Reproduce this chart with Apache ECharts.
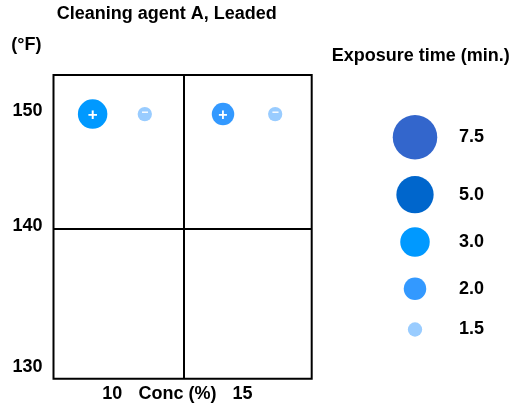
<!DOCTYPE html>
<html>
<head>
<meta charset="utf-8">
<script src="https://cdn.jsdelivr.net/npm/echarts@6/dist/echarts.min.js"></script>
<style>
html,body{margin:0;padding:0;background:#fff;}
#chart{width:519px;height:406px;}
</style>
</head>
<body>
<div id="chart"></div>
<script>
// ---- data ----
const concentrations = [10, 10, 15, 15];          // Conc (%)
const polarities = ['+', '-', '+', '-'];
const temperatures = [150, 150, 150, 150];        // °F
const exposureTimes = ['3.0', '1.5', '2.0', '1.5']; // min.
const legendTimes = ['7.5', '5.0', '3.0', '2.0', '1.5'];
const xTickLabels = [10, 12.5, 15];
const yTickLabels = [130, 140, 150];

// ---- styles ----
const timeColors = ['#3366cc', '#0066cc', '#0099ff', '#3399ff', '#99ccff'];
const timeDiameters = [44.5, 37.3, 29.5, 22.5, 14.3];
const legendCenters = [137.2, 194.7, 242, 288.7, 329.5];
const dodge = 1; // '+' left of the concentration, '-' right
const FS = 18;
const FONT = '"Liberation Sans", Arial, Helvetica, sans-serif';

const chart = echarts.init(document.getElementById('chart'), null, {renderer: 'canvas'});

const series = legendTimes.map((t, k) => {
  const data = [];
  for (let i = 0; i < concentrations.length; i++) {
    if (exposureTimes[i] === t) {
      data.push([concentrations[i] + (polarities[i] === '+' ? -dodge : dodge), temperatures[i], polarities[i]]);
    }
  }
  return {
    name: t,
    type: 'scatter',
    data: data,
    symbol: 'circle',
    symbolSize: timeDiameters[k],
    itemStyle: {color: timeColors[k], opacity: 1},
    label: {
      show: true,
      position: 'inside',
      formatter: p => p.data[2] === '+' ? '{p|+}' : '{m|−}',
      rich: {
        p: {color: '#fff', fontWeight: 'bold', fontSize: timeDiameters[k] > 25 ? 17 : 16, fontFamily: FONT, padding: [2, 0, 0, 0]},
        m: {color: '#fff', fontWeight: 'bold', fontSize: 12, fontFamily: FONT, padding: [0, 0, 2, 0]}
      }
    },
    emphasis: {disabled: true}
  };
});

const legends = legendTimes.map((t, k) => {
  const d = timeDiameters[k];
  const W = 78;
  return {
    data: [t],
    icon: 'circle',
    left: 415 - d / 2,
    top: legendCenters[k] - Math.max(d, FS) / 2,
    itemWidth: W,
    itemHeight: d,
    padding: 0,
    selectedMode: false,
    textStyle: {fontSize: FS, fontWeight: 'bold', color: '#000', fontFamily: FONT}
  };
});

chart.setOption({
  animation: false,
  backgroundColor: '#fff',
  title: [
    {text: 'Cleaning agent A, Leaded', left: 51.7, top: 0,
     textStyle: {fontSize: FS, fontWeight: 'bold', color: '#000', fontFamily: FONT}},
    {text: 'Exposure time (min.)', left: 326.7, top: 42,
     textStyle: {fontSize: FS, fontWeight: 'bold', color: '#000', fontFamily: FONT}}
  ],
  legend: legends,
  grid: {
    left: 53.5, top: 75, right: 207.3, bottom: 27.3,
    show: true, borderColor: '#000', borderWidth: 2, backgroundColor: 'transparent',
    containLabel: false
  },
  xAxis: {
    type: 'value', min: 7.5, max: 17.4,
    axisLine: {show: false},
    axisTick: {show: false, customValues: [12.5]},
    splitLine: {show: true, lineStyle: {color: '#000', width: 2}},
    axisLabel: {
      customValues: xTickLabels,
      formatter: v => v === 12.5 ? 'Conc (%)' : String(v),
      fontSize: FS, fontWeight: 'bold', color: '#000', fontFamily: FONT,
      margin: 6, padding: [0, 13, 0, 0]
    }
  },
  yAxis: {
    type: 'value', min: 127, max: 153.4,
    name: '(°F)', nameLocation: 'end', nameGap: 30,
    nameTextStyle: {fontSize: FS, fontWeight: 'bold', color: '#000', fontFamily: FONT,
                    align: 'right', verticalAlign: 'middle', padding: [0, 12, 0, 0]},
    axisLine: {show: false},
    axisTick: {show: false, customValues: [140]},
    splitLine: {show: true, lineStyle: {color: '#000', width: 2}},
    axisLabel: {
      customValues: yTickLabels,
      formatter: v => v === 130 ? '{low|130}' : '{n|' + v + '}',
      margin: 11,
      rich: {
        n: {fontSize: FS, fontWeight: 'bold', color: '#000', fontFamily: FONT, padding: [0, 0, 6, 0]},
        low: {fontSize: FS, fontWeight: 'bold', color: '#000', fontFamily: FONT, padding: [46, 0, 0, 0]}
      }
    }
  },
  series: series
});
</script>
</body>
</html>
